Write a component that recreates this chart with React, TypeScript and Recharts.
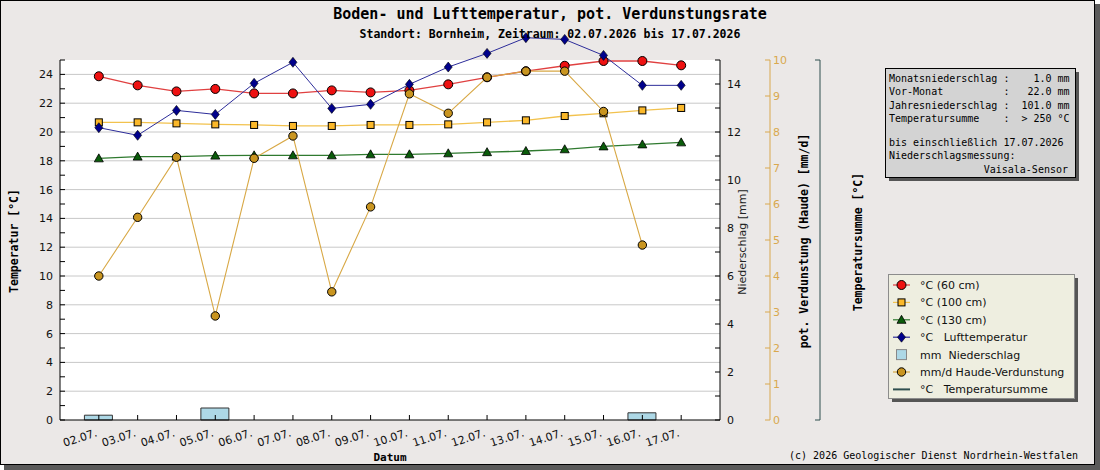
import React from 'react';
import { ComposedChart, Line, Bar, XAxis, YAxis, CartesianGrid, ReferenceLine } from 'recharts';

const dates = ['02.07.', '03.07.', '04.07.', '05.07.', '06.07.', '07.07.', '08.07.', '09.07.', '10.07.', '11.07.', '12.07.', '13.07.', '14.07.', '15.07.', '16.07.', '17.07.'];
const soil60 = [23.87, 23.24, 22.82, 22.99, 22.68, 22.68, 22.89, 22.75, 22.89, 23.31, 23.8, 24.22, 24.6, 24.93, 24.93, 24.63];
const soil100 = [20.67, 20.67, 20.6, 20.53, 20.49, 20.42, 20.42, 20.49, 20.49, 20.53, 20.67, 20.81, 21.11, 21.3, 21.5, 21.67];
const soil130 = [18.17, 18.29, 18.29, 18.36, 18.38, 18.38, 18.38, 18.45, 18.45, 18.52, 18.6, 18.68, 18.8, 19.0, 19.14, 19.28];
const airTemp = [20.3, 19.77, 21.5, 21.22, 23.38, 24.84, 21.64, 21.92, 23.31, 24.51, 25.46, 26.55, 26.43, 25.32, 23.24, 23.24];
const precipitation = [0.2, 0, 0, 0.5, 0, 0, 0, 0, 0, 0, 0, 0, 0, 0, 0.3, 0];
const haude = [4.0, 5.63, 7.3, 2.89, 7.27, 7.89, 3.56, 5.92, 9.06, 8.52, 9.52, 9.69, 9.69, 8.57, 4.86, null];

const xTicks = [1, 2, 3, 4, 5, 6, 7, 8, 9, 10, 11, 12, 13, 14, 15, 16];
const tempTicks = [0, 1, 2, 3, 4, 5, 6, 7, 8, 9, 10, 11, 12, 13, 14, 15, 16, 17, 18, 19, 20, 21, 22, 23, 24, 25];
const gridValues = [2, 4, 6, 8, 10, 12, 14, 16, 18, 20, 22, 24];
const precipTicks = [0, 1, 2, 3, 4, 5, 6, 7, 8, 9, 10, 11, 12, 13, 14, 15];
const evapTicks = [0, 1, 2, 3, 4, 5, 6, 7, 8, 9, 10];

const infoLines = [
  'Monatsniederschlag :    1.0 mm',
  'Vor-Monat          :   22.0 mm',
  'Jahresniederschlag :  101.0 mm',
  'Temperatursumme    :  > 250 °C',
];
const infoFoot = ['bis einschließlich 17.07.2026', 'Niederschlagsmessung:'];
const infoSensor = 'Vaisala-Sensor';

const legendItems = [
  { label: '°C (60 cm)', kind: 'circle' },
  { label: '°C (100 cm)', kind: 'square' },
  { label: '°C (130 cm)', kind: 'triangle' },
  { label: '°C   Lufttemperatur', kind: 'diamond' },
  { label: 'mm  Niederschlag', kind: 'bar' },
  { label: 'mm/d Haude-Verdunstung', kind: 'gold' },
  { label: '°C   Temperatursumme', kind: 'sum' },
];

const data = dates.map((d, i) => ({
  x: i + 1,
  date: d,
  soil60: soil60[i],
  soil100: soil100[i],
  soil130: soil130[i],
  air: airTemp[i],
  precip: precipitation[i],
  haude: haude[i],
}));

const C = {
  red: '#ee1111',
  redLine: '#e04040',
  yellow: '#fbb829',
  yellowLine: '#f2c24e',
  green: '#0a5c0a',
  greenLine: '#2f7a2f',
  blue: '#00008b',
  blueLine: '#2d2d9a',
  gold: '#c99520',
  goldLine: '#d8a845',
  goldAxis: '#d9a84e',
  sum: '#2f4f4f',
  bar: '#add8e6',
};

const mono = '"DejaVu Sans Mono", "Liberation Mono", monospace';
const sans = '"DejaVu Sans", sans-serif';

const shape = (kind: string, cx: number, cy: number, key?: any) => {
  switch (kind) {
    case 'circle':
      return <circle key={key} cx={cx} cy={cy} r={4.5} fill={C.red} stroke="#000" strokeWidth={1} />;
    case 'square':
      return <rect key={key} x={cx - 3.5} y={cy - 3.5} width={7} height={7} fill={C.yellow} stroke="#000" strokeWidth={1} />;
    case 'triangle':
      return <polygon key={key} points={`${cx},${cy - 4.5} ${cx - 4.5},${cy + 3.5} ${cx + 4.5},${cy + 3.5}`} fill={C.green} stroke="#000" strokeWidth={0.8} />;
    case 'diamond':
      return <polygon key={key} points={`${cx},${cy - 5} ${cx + 4},${cy} ${cx},${cy + 5} ${cx - 4},${cy}`} fill={C.blue} stroke="#000" strokeWidth={0.6} />;
    case 'gold':
      return <circle key={key} cx={cx} cy={cy} r={4.2} fill={C.gold} stroke="#000" strokeWidth={1} />;
    default:
      return <g key={key} />;
  }
};

const makeDot = (kind: string) => (props: any) => {
  const { cx, cy, index, value } = props;
  if (cx == null || cy == null || value == null || Number.isNaN(cy)) return <g key={`e-${kind}-${index}`} />;
  return shape(kind, cx, cy, `d-${kind}-${index}`);
};

const XTick = (props: any) => {
  const { x, y, payload } = props;
  const label = dates[payload.value - 1] ?? '';
  const tx = x - 1;
  return (
    <text x={tx} y={y} transform={`rotate(-18, ${tx}, ${y})`} textAnchor="end" fontSize={11} fill="#111" fontFamily={sans}>
      {label}
    </text>
  );
};

const evenFmt = (v: number) => (v % 2 === 0 ? String(v) : '');

export default function App() {
  const lx = 901.5;
  return (
    <div style={{ position: 'absolute', left: 0, top: 0, width: 1100, height: 470, fontFamily: sans }}>
      <style>{'.recharts-wrapper [clip-path]{clip-path:none !important}'}</style>
      <svg width={1100} height={470} style={{ position: 'absolute', left: 0, top: 0 }}>
        <rect x={4} y={4} width={1096} height={466} fill="#5a5a5a" />
        <rect x={0.5} y={0.5} width={1094} height={464} fill="#ebe8e7" stroke="#000" strokeWidth={1} />
      </svg>
      <div style={{ position: 'absolute', left: 0, top: 0 }}>
        <ComposedChart width={1100} height={470} data={data} margin={{ top: 60, right: 270, bottom: 10, left: 0 }}>
          <CartesianGrid horizontal={false} vertical={false} fill="#ffffff" yAxisId="a_temp" />
          <XAxis
            dataKey="x"
            type="number"
            domain={[0, 17]}
            ticks={xTicks}
            interval={0}
            height={40}
            tickSize={-5}
            tickMargin={21}
            tick={<XTick />}
            axisLine={{ stroke: '#000' }}
            tickLine={{ stroke: '#000' }}
          />
          <YAxis
            yAxisId="a_temp"
            orientation="left"
            width={60}
            type="number"
            domain={[0, 25]}
            allowDataOverflow
            ticks={tempTicks}
            interval={0}
            tickFormatter={evenFmt}
            tickSize={-5}
            tickMargin={12}
            tick={{ fontSize: 11, fill: '#111', fontFamily: sans }}
            axisLine={{ stroke: '#000' }}
            tickLine={{ stroke: '#000' }}
          />
          <YAxis
            yAxisId="b_precip"
            orientation="right"
            width={50}
            type="number"
            domain={[0, 15]}
            allowDataOverflow
            ticks={precipTicks}
            interval={0}
            tickFormatter={evenFmt}
            tickSize={-5}
            tickMargin={12}
            tick={{ fontSize: 11, fill: '#111', fontFamily: sans, textAnchor: 'start' }}
            axisLine={{ stroke: '#000' }}
            tickLine={{ stroke: '#000' }}
          />
          <YAxis
            yAxisId="c_evap"
            orientation="right"
            width={50}
            type="number"
            domain={[0, 10]}
            allowDataOverflow
            ticks={evapTicks}
            interval={0}
            tickSize={-5}
            tickMargin={8}
            tick={{ fontSize: 11, fill: C.goldAxis, fontFamily: sans, textAnchor: 'start' }}
            axisLine={{ stroke: C.goldAxis }}
            tickLine={{ stroke: C.goldAxis }}
          />
          <YAxis
            yAxisId="d_sum"
            orientation="right"
            width={10}
            type="number"
            domain={[0, 1]}
            allowDataOverflow
            ticks={[0, 1]}
            interval={0}
            tickFormatter={() => ''}
            tickSize={-5}
            axisLine={{ stroke: C.sum }}
            tickLine={{ stroke: C.sum }}
          />
          {gridValues.map((v) => (
            <ReferenceLine key={`g${v}`} yAxisId="a_temp" y={v} stroke="#c8c8c8" strokeWidth={1} />
          ))}
          <Bar yAxisId="b_precip" dataKey="precip" barSize={28} fill={C.bar} stroke="#333" strokeWidth={1} isAnimationActive={false} />
          <Line yAxisId="a_temp" dataKey="soil60" stroke={C.redLine} strokeWidth={1.3} dot={makeDot('circle')} activeDot={false} isAnimationActive={false} />
          <Line yAxisId="a_temp" dataKey="soil100" stroke={C.yellowLine} strokeWidth={1.3} dot={makeDot('square')} activeDot={false} isAnimationActive={false} />
          <Line yAxisId="a_temp" dataKey="soil130" stroke={C.greenLine} strokeWidth={1.3} dot={makeDot('triangle')} activeDot={false} isAnimationActive={false} />
          <Line yAxisId="a_temp" dataKey="air" stroke={C.blueLine} strokeWidth={1} dot={makeDot('diamond')} activeDot={false} isAnimationActive={false} />
          <Line yAxisId="c_evap" dataKey="haude" stroke={C.goldLine} strokeWidth={1.1} dot={makeDot('gold')} activeDot={false} isAnimationActive={false} />
        </ComposedChart>
      </div>
      <svg width={1100} height={470} style={{ position: 'absolute', left: 0, top: 0, pointerEvents: 'none' }}>
        <text x={550} y={19} textAnchor="middle" fontFamily={mono} fontWeight="bold" fontSize={15} fill="#000">
          Boden- und Lufttemperatur, pot. Verdunstungsrate
        </text>
        <text x={550} y={38} textAnchor="middle" fontFamily={mono} fontWeight="bold" fontSize={11.5} fill="#000">
          Standort: Bornheim, Zeitraum: 02.07.2026 bis 17.07.2026
        </text>
        <text x={18} y={241} transform="rotate(-90, 18, 241)" textAnchor="middle" fontFamily={mono} fontWeight="bold" fontSize={11.5} fill="#000">
          Temperatur [°C]
        </text>
        <text x={746} y={242} transform="rotate(-90, 746, 242)" textAnchor="middle" fontFamily={sans} fontSize={11} fill="#222">
          Niederschlag [mm]
        </text>
        <text x={808} y={241} transform="rotate(-90, 808, 241)" textAnchor="middle" fontFamily={mono} fontWeight="bold" fontSize={11.5} fill="#000">
          pot. Verdunstung (Haude) [mm/d]
        </text>
        <text x={862} y={242} transform="rotate(-90, 862, 242)" textAnchor="middle" fontFamily={mono} fontWeight="bold" fontSize={11.5} fill="#000">
          Temperatursumme [°C]
        </text>
        <text x={390} y={461} textAnchor="middle" fontFamily={mono} fontWeight="bold" fontSize={11} fill="#000">
          Datum
        </text>
        <text x={1078} y={459} textAnchor="end" fontFamily={mono} fontSize={10} fill="#000">
          (c) 2026 Geologischer Dienst Nordrhein-Westfalen
        </text>

        <rect x={889} y={72} width={190} height={109} fill="#555" />
        <rect x={885.5} y={68.5} width={190} height={109} fill="#d3d3d3" stroke="#000" strokeWidth={1} />
        {infoLines.map((t, i) => (
          <text key={t} x={889} y={82 + i * 13.4} fontFamily={mono} fontSize={10} fill="#000" style={{ whiteSpace: 'pre' }}>
            {t}
          </text>
        ))}
        {infoFoot.map((t, i) => (
          <text key={t} x={889} y={146 + i * 13.4} fontFamily={mono} fontSize={10} fill="#000" style={{ whiteSpace: 'pre' }}>
            {t}
          </text>
        ))}
        <text x={1068} y={172.5} textAnchor="end" fontFamily={mono} fontSize={10} fill="#000">
          {infoSensor}
        </text>

        <rect x={892} y={278} width={186} height={124} fill="#555" />
        <rect x={888.5} y={274.5} width={186} height={124} fill="#eeeee0" stroke="#8c8c8c" strokeWidth={1} />
        {legendItems.map((it, i) => {
          const cy = 285 + i * 17.4;
          const lineColor =
            it.kind === 'circle' ? C.redLine : it.kind === 'square' ? C.yellowLine : it.kind === 'triangle' ? C.greenLine : it.kind === 'diamond' ? C.blueLine : it.kind === 'gold' ? C.goldLine : C.sum;
          return (
            <g key={it.label}>
              {it.kind === 'bar' ? (
                <rect x={lx - 5} y={cy - 5} width={10} height={10} fill={C.bar} stroke="#888" strokeWidth={1} />
              ) : (
                <>
                  <line x1={893} x2={910} y1={cy} y2={cy} stroke={lineColor} strokeWidth={it.kind === 'sum' ? 2 : 1.2} />
                  {shape(it.kind, lx, cy)}
                </>
              )}
              <text x={920} y={cy + 4} fontFamily={sans} fontSize={11} fill="#111" style={{ whiteSpace: 'pre' }}>
                {it.label}
              </text>
            </g>
          );
        })}
      </svg>
    </div>
  );
}
